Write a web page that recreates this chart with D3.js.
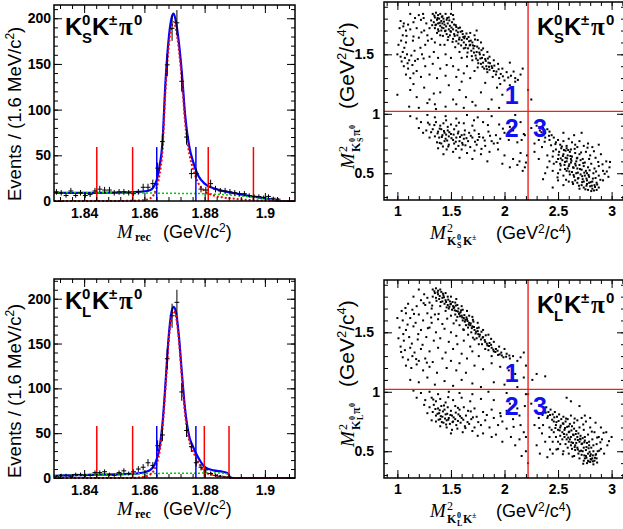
<!DOCTYPE html>
<html>
<head>
<meta charset="utf-8">
<script src="https://cdn.jsdelivr.net/npm/d3@7"></script>
<style>
  body { margin: 0; background: #fff; }
  svg { display: block; }
</style>
</head>
<body>
<svg id="chart" width="623" height="529"></svg>
<script>
// ---- histogram data (1.6 MeV bins from 1.83 to 1.91) ----
var binLo = 1.83, binW = 0.0016;
var countsKS = [10, 9, 6, 11, 6, 9, 6, 7, 11, 13, 12, 12, 9, 10, 10, 9, 8, 10, 15, 15,
                19, 36, 65, 149, 189, 195, 131, 70, 30, 30, 13, 12, 19, 13, 11, 11, 10, 9, 8, 8,
                6, 5, 5, 4, 5, 3, 2, 0, 0, 0];
var countsKL = [2, 3, 3, 2, 4, 4, 3, 3, 6, 6, 7, 4, 3, 6, 8, 5, 7, 10, 12, 17,
                14, 36, 48, 133, 181, 196, 96, 53, 35, 17, 12, 9, 5, 3, 2, 1, 1, 0, 0, 0,
                0, 0, 0, 0, 0, 0, 0, 0, 0, 0];

// ---- fit curves ----
var fitXKS   = [1.830, 1.835, 1.840, 1.845, 1.850, 1.855, 1.858, 1.860, 1.862, 1.864, 1.865, 1.866, 1.867, 1.868, 1.869, 1.8697,
                1.8705, 1.8715, 1.8725, 1.8735, 1.875, 1.876, 1.878, 1.880, 1.883, 1.886, 1.890, 1.895, 1.900, 1.903, 1.905, 1.910];
var totalKS  = [9, 9, 9, 9, 9.2, 9.5, 10, 10.5, 12, 22, 37, 64, 130, 175, 200, 205,
                196, 172, 138, 95, 58, 45, 27, 19, 14, 11, 8.5, 5.5, 3, 1.2, 0, 0];
var signalKS = [0, 0, 0, 0, 0, 0.2, 0.5, 1, 3, 14, 28, 55, 120, 166, 191, 196,
                188, 164, 130, 87, 50, 37, 19, 11, 6, 4, 2.5, 1, 0.5, 0.2, 0, 0];
var bkgKS    = [9, 9, 9, 9, 9, 8.9, 8.8, 8.8, 8.7, 8.6, 8.6, 8.5, 8.5, 8.5, 8.4, 8.4,
                8.4, 8.3, 8.3, 8.3, 8.2, 8.2, 8.1, 8, 7.5, 7, 6, 4.5, 2.5, 1, 0, 0];

var fitXKL   = [1.830, 1.835, 1.840, 1.845, 1.850, 1.855, 1.858, 1.860, 1.862, 1.864, 1.865, 1.866, 1.867, 1.868, 1.869, 1.8697,
                1.8705, 1.8715, 1.8725, 1.8735, 1.875, 1.876, 1.878, 1.880, 1.883, 1.886, 1.8875, 1.888, 1.8885, 1.890, 1.910];
var totalKL  = [2.5, 3, 3.3, 3.7, 4, 4.5, 5.2, 6.4, 9, 20, 33, 60, 105, 155, 185, 191,
                185, 157, 115, 77, 45, 36, 22, 12.5, 8.5, 7, 5.5, 4, 0, 0, 0];
var signalKL = [0, 0, 0, 0, 0, 0, 0.5, 1.5, 4, 15, 28, 55, 100, 150, 180, 186,
                180, 152, 110, 72, 40, 31, 17, 7, 3, 1.5, 1, 0.5, 0, 0, 0];
var bkgKL    = [2.5, 3, 3.3, 3.7, 4, 4.5, 4.7, 4.9, 5, 5.1, 5.1, 5.2, 5.2, 5.2, 5.3, 5.3,
                5.3, 5.3, 5.3, 5.4, 5.4, 5.4, 5.4, 5.5, 5.5, 5.4, 4.5, 3.5, 0, 0, 0];

// signal window (blue) and sideband (red) markers
var sigWinKS = [1.8641, 1.8771], sideKS = [1.8442, 1.8561, 1.8812, 1.8962], markHKS = 59;
var sigWinKL = [1.8641, 1.8771], sideKL = [1.8442, 1.8561, 1.8799, 1.8881], markHKL = 58;

// ---- Dalitz plots ----
var cutX = 2.22, cutY = 1.02;
var regionLabels = [["1", 2.067, 1.085], ["2", 2.067, 0.805], ["3", 2.33, 0.805]];

var dalitzKS = [
 [1.33,1.84],[1.36,1.85],[1.38,1.83],[1.40,1.84],[1.42,1.82],[1.45,1.84],[1.50,1.84],[1.52,1.83],[1.35,1.81],[1.37,1.79],
 [1.39,1.80],[1.41,1.78],[1.43,1.80],[1.46,1.79],[1.48,1.81],[1.34,1.77],[1.36,1.75],[1.38,1.76],[1.40,1.74],[1.42,1.76],
 [1.44,1.75],[1.47,1.76],[1.49,1.74],[1.51,1.77],[1.53,1.75],[1.55,1.73],[1.35,1.72],[1.38,1.71],[1.41,1.70],[1.43,1.72],
 [1.45,1.70],[1.48,1.71],[1.50,1.69],[1.52,1.71],[1.55,1.70],[1.57,1.72],[1.59,1.69],[1.37,1.68],[1.40,1.66],[1.46,1.67],
 [1.49,1.66],[1.53,1.67],[1.56,1.66],[1.58,1.64],[1.61,1.67],[1.63,1.65],[1.60,1.62],[1.62,1.60],[1.65,1.63],[1.67,1.61],
 [1.52,1.63],[1.55,1.61],[1.57,1.59],[1.64,1.58],[1.68,1.58],[1.70,1.60],[1.72,1.57],[1.66,1.55],[1.69,1.53],[1.71,1.55],
 [1.74,1.52],[1.76,1.55],[1.73,1.49],[1.77,1.50],[1.79,1.47],[1.75,1.45],[1.80,1.43],[1.82,1.46],[1.78,1.42],[1.83,1.40],
 [1.85,1.43],[1.81,1.38],[1.86,1.37],[1.88,1.40],[1.84,1.35],[1.90,1.36],[1.92,1.33],[1.89,1.31],[1.95,1.30],[1.62,1.55],
 [1.58,1.52],[1.65,1.48],[1.70,1.45],[1.60,1.47],[1.54,1.56],[1.47,1.62],[1.44,1.58],[1.68,1.68],[1.72,1.66],[1.75,1.62],
 [1.78,1.60],[1.74,1.70],[1.80,1.55],[1.84,1.52],[1.86,1.48],[1.90,1.45],[1.94,1.42],[1.98,1.38],[2.02,1.35],[2.06,1.32],
 [2.10,1.30],[2.15,1.33],[2.17,1.38],[2.05,1.43],[2.00,1.28],[1.96,1.25],
 [1.12,1.84],[1.20,1.83],[1.24,1.84],[1.03,1.78],[1.06,1.76],[1.10,1.75],[1.15,1.77],[1.22,1.79],[1.27,1.76],[1.02,1.72],
 [1.08,1.70],[1.12,1.71],[1.18,1.72],[1.25,1.70],[1.30,1.72],[1.05,1.66],[1.15,1.65],[1.20,1.64],[1.28,1.66],[1.32,1.63],
 [1.01,1.58],[1.08,1.60],[1.26,1.58],[1.35,1.60],[1.40,1.58],[1.00,1.50],[1.03,1.48],[1.05,1.52],[1.07,1.47],[1.09,1.50],
 [1.11,1.45],[1.13,1.49],[1.16,1.53],[1.04,1.44],[1.19,1.46],[1.23,1.50],[1.30,1.48],[1.34,1.52],[1.38,1.47],[1.45,1.50],
 [1.50,1.47],[1.06,1.40],[1.10,1.38],[1.14,1.41],[1.18,1.36],[1.26,1.40],[1.33,1.42],[1.40,1.38],[1.46,1.41],[1.52,1.40],
 [1.57,1.37],[1.08,1.33],[1.12,1.30],[1.15,1.34],[1.22,1.31],[1.30,1.33],[1.37,1.30],[1.45,1.32],[1.55,1.31],[1.62,1.34],
 [1.68,1.30],[1.72,1.36],[1.65,1.40],[1.75,1.39],
 [1.00,1.16],[1.12,1.20],[1.18,1.14],[1.25,1.22],[1.30,1.12],[1.35,1.08],[1.40,1.18],[1.48,1.24],[1.52,1.12],[1.58,1.20],
 [1.64,1.14],[1.70,1.10],[1.78,1.18],[1.82,1.26],[1.88,1.12],[1.93,1.22],[1.98,1.16],[2.05,1.24],[2.10,1.27],[2.22,1.20],
 [1.11,1.06],[1.20,1.05],[1.28,1.09],[1.36,1.04],[1.45,1.06],[1.55,1.08],[1.62,1.05],[1.73,1.07],[1.85,1.04],[1.95,1.05],
 [1.15,1.25],[1.60,1.27],[1.34,1.17],
 [1.12,0.98],[1.18,0.96],[1.28,0.99],[1.35,0.97],[1.45,0.98],[1.55,0.96],[1.65,0.99],[1.75,0.97],[1.88,0.98],[2.10,0.99],
 [1.22,0.93],[1.30,0.91],[1.36,0.93],[1.40,0.90],[1.43,0.92],[1.47,0.89],[1.50,0.91],[1.55,0.90],[1.62,0.92],[1.70,0.90],
 [1.80,0.93],[1.95,0.91],[2.05,0.89],[2.15,0.93],[1.27,0.86],[1.33,0.87],[1.38,0.85],[1.41,0.87],[1.44,0.84],[1.47,0.86],
 [1.50,0.83],[1.53,0.87],[1.57,0.85],[1.60,0.82],[1.63,0.86],[1.67,0.84],[1.72,0.86],[1.76,0.83],[1.85,0.85],[1.92,0.82],
 [2.00,0.84],[2.08,0.86],[2.18,0.83],[1.35,0.81],[1.39,0.80],[1.42,0.82],[1.45,0.79],[1.48,0.81],[1.52,0.78],[1.55,0.80],
 [1.58,0.77],[1.62,0.79],[1.66,0.77],[1.70,0.80],[1.75,0.78],[1.80,0.80],[1.88,0.77],[1.96,0.79],[2.04,0.78],[1.37,0.76],
 [1.41,0.75],[1.44,0.77],[1.48,0.74],[1.53,0.75],[1.57,0.73],[1.61,0.74],[1.68,0.72],[1.74,0.74],[1.82,0.73],[1.90,0.75],
 [2.12,0.76],[1.38,0.71],[1.46,0.70],[1.52,0.68],[1.60,0.70],[1.65,0.67],[1.72,0.69],[1.78,0.66],[1.86,0.68],[1.94,0.70],
 [2.00,0.65],[2.15,0.67],[1.43,0.66],[1.58,0.63],[1.70,0.62],[1.84,0.60],[1.98,0.58],[2.05,0.55],[2.12,0.57],[2.17,0.52],
 [2.20,0.59],[2.08,0.62],[1.30,0.80],[1.24,0.84],[1.20,0.88],[2.19,0.82],[2.16,0.78],[2.21,0.65],[2.19,0.55],[2.14,0.60],
 [2.25,0.88],[2.30,0.90],[2.33,0.86],[2.36,0.88],[2.38,0.84],[2.40,0.87],[2.42,0.85],[2.44,0.82],[2.38,0.80],[2.32,0.78],
 [2.28,0.75],[2.35,0.72],[2.42,0.78],[2.46,0.80],[2.48,0.76],[2.50,0.78],[2.52,0.74],[2.55,0.77],[2.58,0.73],[2.60,0.79],
 [2.63,0.76],[2.66,0.74],[2.70,0.77],[2.74,0.73],[2.78,0.75],[2.82,0.72],[2.88,0.74],[2.65,0.82],[2.72,0.84],[2.55,0.84],
 [2.48,0.70],[2.51,0.68],[2.53,0.71],[2.55,0.66],[2.57,0.69],[2.59,0.65],[2.61,0.68],[2.63,0.64],[2.66,0.67],[2.68,0.63],
 [2.70,0.66],[2.73,0.62],[2.76,0.68],[2.80,0.65],[2.85,0.63],[2.90,0.66],[2.95,0.60],[2.45,0.64],[2.42,0.60],[2.40,0.55],
 [2.38,0.50],[2.36,0.45],[2.45,0.52],[2.50,0.62],[2.52,0.58],[2.54,0.61],[2.56,0.57],[2.58,0.60],[2.60,0.56],[2.62,0.59],
 [2.64,0.55],[2.66,0.58],[2.68,0.54],[2.70,0.57],[2.72,0.53],[2.74,0.56],[2.76,0.52],[2.78,0.55],[2.81,0.58],[2.84,0.54],
 [2.88,0.56],[2.92,0.52],[2.98,0.55],[2.50,0.50],[2.55,0.48],[2.58,0.52],[2.61,0.49],[2.63,0.51],[2.65,0.47],[2.67,0.50],
 [2.69,0.46],[2.71,0.49],[2.73,0.45],[2.75,0.48],[2.77,0.44],[2.79,0.47],[2.82,0.43],[2.85,0.46],[2.88,0.48],[2.92,0.44],
 [2.97,0.47],[2.60,0.43],[2.64,0.41],[2.68,0.42],[2.72,0.40],[2.74,0.38],[2.77,0.41],[2.80,0.39],[2.82,0.37],[2.84,0.40],
 [2.86,0.36],[2.81,0.35],[2.78,0.36],[2.70,0.37],[2.55,0.40],[2.50,0.44],[2.45,0.38],[2.88,0.38],[2.62,0.62],[2.57,0.63],
 [2.67,0.60],[2.71,0.61],[2.75,0.59],[2.79,0.62],[2.52,0.53],[2.59,0.54],[2.77,0.50],[2.83,0.50],[2.86,0.42],[2.74,0.43],
 [2.79,0.42],[2.66,0.44],[2.62,0.70],[2.58,0.71],[2.68,0.72],[2.46,0.58],[2.40,0.65],[2.32,0.62],[2.28,0.68],[2.25,1.12]
];
var dalitzKSMore = [
 [1.345,1.825],[1.375,1.805],[1.395,1.765],[1.415,1.815],[1.435,1.775],[1.455,1.735],[1.465,1.805],[1.485,1.785],[1.505,1.725],[1.525,1.795],
 [1.545,1.745],[1.565,1.685],[1.585,1.725],[1.605,1.695],[1.625,1.635],[1.645,1.675],[1.665,1.645],[1.685,1.615],[1.705,1.575],[1.725,1.625],
 [1.745,1.565],[1.765,1.515],[1.785,1.535],[1.805,1.495],[1.825,1.445],[1.845,1.465],[1.865,1.425],[1.885,1.385],[1.905,1.405],[1.925,1.355],
 [1.945,1.375],[1.965,1.335],[1.985,1.315],[1.355,1.745],[1.385,1.695],[1.425,1.655],[1.475,1.645],[1.515,1.605],[1.535,1.655],[1.575,1.625],
 [1.595,1.575],[1.635,1.555],[1.655,1.515],[1.695,1.485],[1.735,1.465],[1.755,1.425],[1.795,1.395],[1.835,1.375],[1.315,1.785],[1.325,1.745],
 [1.415,1.725],[1.445,1.695],[1.495,1.695],[1.615,1.645],[1.675,1.575],[1.715,1.515],[1.775,1.465],[1.855,1.395],[2.035,1.305],[2.085,1.355],
 [2.125,1.285],[1.285,1.615],[1.215,1.555],[1.065,1.555],[1.095,1.425],[1.165,1.445],[1.245,1.465],[1.085,1.655],[1.145,1.615],[1.035,1.615],
 [1.225,1.685],[1.055,1.735],[1.245,1.805],[1.165,1.805],
 [1.375,0.835],[1.395,0.875],[1.415,0.805],[1.435,0.855],[1.455,0.825],[1.465,0.775],[1.485,0.845],[1.505,0.795],[1.525,0.825],[1.545,0.765],
 [1.565,0.835],[1.585,0.805],[1.605,0.755],[1.625,0.825],[1.645,0.795],[1.685,0.815],[1.725,0.765],[1.765,0.805],[1.815,0.775],[1.865,0.815],
 [1.395,0.755],[1.425,0.725],[1.475,0.725],[1.545,0.705],[1.635,0.735],[1.345,0.905],[1.455,0.945],[1.575,0.925],[1.715,0.945],[1.845,0.905],
 [1.985,0.875],[2.065,0.815],[1.935,0.755],[1.785,0.705],[1.315,0.845],[1.285,0.925],
 [2.505,0.655],[2.525,0.625],[2.545,0.645],[2.565,0.595],[2.585,0.625],[2.605,0.575],[2.625,0.605],[2.645,0.545],[2.665,0.565],[2.685,0.505],
 [2.705,0.535],[2.725,0.475],[2.745,0.505],[2.765,0.455],[2.785,0.485],[2.805,0.425],[2.825,0.455],[2.845,0.385],[2.815,0.395],[2.765,0.395],
 [2.725,0.425],[2.685,0.455],[2.645,0.485],[2.605,0.515],[2.565,0.535],[2.525,0.565],[2.485,0.595],[2.455,0.685],[2.475,0.745],[2.535,0.725],
 [2.595,0.695],[2.655,0.705],[2.715,0.675],[2.775,0.715],[2.835,0.685],[2.875,0.595],[2.915,0.575],[2.935,0.495],[2.855,0.515],[2.795,0.525],
 [2.735,0.585],[2.675,0.625],[2.615,0.645],[2.555,0.695],[2.415,0.815],[2.375,0.765],[2.345,0.845],[2.435,0.735],[2.495,0.465],[2.575,0.445],
 [2.635,0.425],[2.695,0.395],[2.755,0.365],[2.835,0.355],[2.865,0.405],[2.895,0.445],[2.955,0.515],[2.985,0.595]
];

var dalitzKL = [
 [1.33,1.86],[1.36,1.87],[1.38,1.85],[1.40,1.86],[1.35,1.83],[1.38,1.82],[1.41,1.84],[1.43,1.81],[1.33,1.80],[1.36,1.79],
 [1.39,1.78],[1.42,1.79],[1.45,1.77],[1.47,1.80],[1.49,1.76],[1.44,1.74],[1.47,1.73],[1.50,1.74],[1.52,1.72],[1.54,1.75],
 [1.48,1.70],[1.51,1.69],[1.53,1.71],[1.55,1.68],[1.57,1.70],[1.59,1.67],[1.54,1.65],[1.56,1.63],[1.58,1.66],[1.60,1.64],
 [1.62,1.62],[1.61,1.60],[1.63,1.59],[1.65,1.61],[1.67,1.58],[1.64,1.56],[1.66,1.54],[1.68,1.56],[1.70,1.55],[1.72,1.52],
 [1.69,1.50],[1.73,1.49],[1.75,1.51],[1.77,1.48],[1.74,1.45],[1.78,1.44],[1.80,1.46],[1.82,1.42],[1.79,1.40],[1.84,1.39],
 [1.86,1.41],[1.88,1.37],[1.85,1.35],[1.90,1.34],[1.92,1.36],[1.94,1.31],[1.97,1.33],[1.99,1.29],[2.02,1.32],[2.05,1.28],
 [2.08,1.30],[2.12,1.26],[2.15,1.29],[2.18,1.33],[2.20,1.22],[1.45,1.83],[1.50,1.80],[1.55,1.78],[1.60,1.72],[1.65,1.68],
 [1.70,1.63],[1.75,1.58],[1.80,1.52],[1.85,1.48],[1.90,1.42],[1.95,1.38],[2.00,1.36],[1.30,1.75],[1.32,1.70],[1.40,1.72],
 [1.45,1.68],[1.50,1.64],[1.55,1.60],[1.58,1.56],[1.62,1.52],[1.66,1.48],[1.72,1.44],[1.76,1.40],[1.82,1.36],[1.88,1.30],
 [1.42,1.76],[1.46,1.71],[1.56,1.73],[1.61,1.69],[1.67,1.64],[1.71,1.59],[1.76,1.54],
 [1.20,1.86],[1.25,1.82],[1.15,1.80],[1.22,1.77],[1.28,1.79],[1.10,1.74],[1.18,1.72],[1.26,1.73],[1.04,1.68],[1.08,1.66],
 [1.14,1.69],[1.20,1.65],[1.28,1.66],[1.35,1.65],[1.00,1.62],[1.05,1.60],[1.12,1.62],[1.17,1.58],[1.24,1.60],[1.32,1.58],
 [1.38,1.61],[1.42,1.57],[1.02,1.54],[1.08,1.52],[1.15,1.55],[1.22,1.52],[1.30,1.54],[1.36,1.50],[1.44,1.53],[1.50,1.50],
 [1.55,1.47],[1.01,1.45],[1.06,1.43],[1.11,1.46],[1.19,1.44],[1.27,1.46],[1.34,1.43],[1.40,1.45],[1.48,1.42],[1.56,1.40],
 [1.62,1.43],[1.68,1.38],[1.03,1.38],[1.07,1.35],[1.12,1.37],[1.16,1.33],[1.22,1.36],[1.30,1.34],[1.38,1.37],[1.45,1.33],
 [1.52,1.36],[1.60,1.32],[1.70,1.34],[1.05,1.29],[1.10,1.27],[1.14,1.30],[1.20,1.26],[1.26,1.28],[1.33,1.25],[1.42,1.28],
 [1.50,1.26],[1.58,1.24],[1.65,1.28],[1.76,1.30],[1.08,1.22],[1.13,1.20],[1.18,1.23],[1.24,1.18],[1.30,1.21],[1.37,1.16],
 [1.46,1.20],[1.55,1.18],[1.64,1.16],[1.72,1.22],[1.80,1.19],[1.88,1.24],[1.96,1.21],[2.04,1.18],[2.10,1.15],[2.18,1.12],
 [2.30,1.15],[1.12,1.10],[1.20,1.08],[1.28,1.12],[1.35,1.06],[1.44,1.09],[1.52,1.05],[1.60,1.10],[1.70,1.07],[1.78,1.04],
 [1.90,1.08],[2.00,1.06],[2.12,1.04],[2.26,1.10],[2.38,1.13],
 [1.15,1.01],[1.22,0.99],[1.30,1.00],[1.38,0.98],[1.48,1.00],[1.58,0.99],[1.70,0.98],[1.85,1.00],[2.02,0.99],[2.20,0.98],
 [1.18,0.95],[1.26,0.93],[1.32,0.95],[1.36,0.92],[1.40,0.94],[1.45,0.91],[1.52,0.93],[1.60,0.95],[1.68,0.92],[1.78,0.94],
 [1.90,0.93],[2.05,0.90],[1.25,0.89],[1.30,0.87],[1.34,0.89],[1.38,0.86],[1.41,0.88],[1.44,0.85],[1.47,0.87],[1.50,0.84],
 [1.54,0.88],[1.58,0.85],[1.62,0.87],[1.66,0.84],[1.72,0.86],[1.80,0.83],[1.88,0.85],[1.96,0.82],[2.02,0.84],[2.12,0.86],
 [1.28,0.82],[1.33,0.83],[1.36,0.80],[1.39,0.82],[1.42,0.79],[1.45,0.81],[1.48,0.78],[1.51,0.80],[1.54,0.77],[1.57,0.81],
 [1.60,0.78],[1.64,0.80],[1.69,0.77],[1.74,0.79],[1.82,0.76],[1.90,0.78],[1.98,0.75],[2.08,0.77],[2.15,0.72],[1.32,0.76],
 [1.36,0.75],[1.40,0.77],[1.43,0.74],[1.46,0.76],[1.49,0.73],[1.52,0.75],[1.55,0.72],[1.59,0.74],[1.63,0.71],[1.67,0.73],
 [1.72,0.70],[1.78,0.72],[1.86,0.70],[1.94,0.72],[2.02,0.69],[1.40,0.71],[1.46,0.70],[1.51,0.68],[1.56,0.69],[1.61,0.66],
 [1.70,0.67],[1.80,0.65],[1.92,0.64],[2.06,0.62],[2.14,0.60],[2.18,0.66],[1.50,0.65],[1.75,0.63],[1.98,0.58],[2.10,0.55],
 [2.20,0.50],[2.16,0.46],[1.88,0.62],[2.22,0.98],[2.19,0.88],[2.14,0.80],[2.20,0.62],[2.22,0.40],
 [2.25,0.90],[2.30,0.93],[2.34,0.88],[2.37,0.85],[2.39,0.87],[2.41,0.83],[2.43,0.85],[2.45,0.81],[2.47,0.83],[2.49,0.79],
 [2.51,0.81],[2.53,0.77],[2.55,0.79],[2.57,0.75],[2.59,0.77],[2.61,0.73],[2.63,0.71],[2.65,0.69],[2.67,0.67],[2.69,0.65],
 [2.71,0.63],[2.73,0.61],[2.75,0.59],[2.77,0.57],[2.79,0.55],[2.81,0.53],[2.83,0.50],[2.85,0.47],[2.58,0.95],[2.62,0.92],
 [2.70,0.88],[2.75,0.80],[2.80,0.78],[2.85,0.74],[2.90,0.70],[2.95,0.66],[3.00,0.62],[2.32,0.78],[2.28,0.72],[2.35,0.65],
 [2.30,0.55],[2.33,0.48],[2.40,0.45],[2.45,0.58],[2.42,0.70],[2.48,0.72],[2.50,0.68],[2.52,0.70],[2.54,0.66],[2.56,0.68],
 [2.58,0.64],[2.60,0.66],[2.62,0.62],[2.64,0.64],[2.66,0.60],[2.68,0.62],[2.70,0.58],[2.72,0.56],[2.74,0.53],[2.76,0.51],
 [2.78,0.48],[2.80,0.46],[2.82,0.44],[2.84,0.42],[2.86,0.44],[2.78,0.42],[2.75,0.44],[2.72,0.47],[2.70,0.50],[2.68,0.53],
 [2.66,0.55],[2.64,0.57],[2.62,0.55],[2.60,0.58],[2.58,0.60],[2.56,0.62],[2.54,0.60],[2.52,0.63],[2.50,0.58],[2.48,0.62],
 [2.46,0.66],[2.44,0.68],[2.55,0.73],[2.60,0.71],[2.65,0.74],[2.70,0.70],[2.74,0.68],[2.78,0.64],[2.82,0.60],[2.86,0.56],
 [2.90,0.52],[2.93,0.48],[2.88,0.62],[2.84,0.66],[2.80,0.70],[2.76,0.75],[2.72,0.78],[2.68,0.76],[2.62,0.80],[2.50,0.52],
 [2.55,0.50],[2.60,0.48],[2.65,0.46],[2.70,0.44],[2.74,0.42],[2.77,0.40],[2.80,0.41],[2.83,0.39],[2.81,0.43],[2.76,0.46],
 [2.73,0.50],[2.69,0.48],[2.66,0.51],[2.63,0.52],[2.59,0.53],[2.57,0.56],[2.61,0.60],[2.67,0.57],[2.71,0.60],[2.75,0.62],
 [2.79,0.58],[2.83,0.55],[2.87,0.50],[2.91,0.60],[2.96,0.55],[2.45,0.48],[2.38,0.58],[2.42,0.62],[2.36,0.72],[2.40,0.78],
 [2.46,0.75],[2.52,0.56]
];
var dalitzKLMore = [
 [1.345,1.845],[1.375,1.835],[1.395,1.805],[1.425,1.825],[1.435,1.795],[1.455,1.755],[1.475,1.775],[1.495,1.735],[1.515,1.755],[1.525,1.705],
 [1.545,1.725],[1.565,1.675],[1.575,1.655],[1.595,1.685],[1.605,1.625],[1.625,1.645],[1.635,1.605],[1.655,1.595],[1.665,1.565],[1.685,1.575],
 [1.695,1.535],[1.715,1.545],[1.735,1.505],[1.755,1.485],[1.765,1.465],[1.795,1.455],[1.815,1.435],[1.835,1.405],[1.855,1.385],[1.875,1.395],
 [1.895,1.355],[1.915,1.335],[1.935,1.345],[1.955,1.315],[1.975,1.305],[2.015,1.295],[2.045,1.305],[1.365,1.765],[1.405,1.755],[1.485,1.715],
 [1.535,1.685],[1.585,1.635],[1.645,1.625],[1.705,1.605],[1.745,1.535],[1.785,1.505],[1.825,1.475],[1.875,1.445],[1.325,1.725],[1.385,1.655],
 [1.465,1.615],[1.525,1.575],[1.615,1.525],[1.705,1.455],[1.285,1.535],[1.195,1.485],[1.095,1.565],[1.055,1.485],[1.135,1.405],[1.235,1.395],
 [1.155,1.655],[1.075,1.705],[1.245,1.745],[1.315,1.625],[1.035,1.335],[1.175,1.275],[1.275,1.245],
 [1.375,0.815],[1.395,0.845],[1.405,0.795],[1.425,0.835],[1.445,0.775],[1.465,0.815],[1.475,0.765],[1.495,0.805],[1.515,0.745],[1.525,0.785],
 [1.545,0.825],[1.565,0.755],[1.585,0.795],[1.615,0.765],[1.655,0.745],[1.705,0.785],[1.755,0.745],[1.385,0.765],[1.415,0.745],[1.455,0.725],
 [1.355,0.855],[1.435,0.885],[1.565,0.865],[1.685,0.835],[1.835,0.805],[1.965,0.795],[2.085,0.705],[1.635,0.695],[1.335,0.935],[1.475,0.955],
 [2.385,0.825],[2.405,0.795],[2.425,0.805],[2.445,0.765],[2.465,0.785],[2.485,0.745],[2.505,0.755],[2.525,0.715],[2.545,0.735],[2.565,0.695],
 [2.585,0.705],[2.605,0.665],[2.625,0.675],[2.645,0.635],[2.665,0.645],[2.685,0.595],[2.705,0.605],[2.725,0.565],[2.745,0.575],[2.765,0.535],
 [2.785,0.525],[2.795,0.495],[2.805,0.475],[2.825,0.465],[2.845,0.445],[2.765,0.445],[2.785,0.415],[2.805,0.435],[2.825,0.415],[2.745,0.465],
 [2.715,0.505],[2.685,0.515],[2.655,0.535],[2.625,0.575],[2.595,0.615],[2.555,0.645],[2.515,0.675],[2.475,0.695],[2.575,0.775],[2.655,0.775],
 [2.735,0.725],[2.815,0.665],[2.865,0.615],[2.895,0.575],[2.855,0.475],[2.885,0.505],[2.425,0.515],[2.485,0.515],[2.545,0.475],[2.635,0.455],
 [2.735,0.395],[2.865,0.405],[2.925,0.655],[2.975,0.585],[2.355,0.805],[2.325,0.695]
];

// ---- axis ticks ----
var mrecTicks = [1.84, 1.86, 1.88, 1.9];
var eventTicks = [0, 50, 100, 150, 200];
var m2Ticks = [1, 1.5, 2, 2.5, 3];
var m2yTicks = [0.5, 1, 1.5];

var svg = d3.select("#chart");
var SANS = "'Liberation Sans', Arial, Helvetica, sans-serif";
var SERIF = "'Liberation Serif', 'Times New Roman', serif";

function fmt(d) { return String(+d.toFixed(3)); }

// ROOT-style frame: ticks inside, mirrored on top/right
function drawFrame(g, x, y, xMaj, xMin, yMaj, yMin, xPad, yPad) {
    var w = x.range()[1] - x.range()[0], h = y.range()[0] - y.range()[1];
    var x0 = x.range()[0], y0 = y.range()[1];

    function ax(gen, tv, size, labels, tx, ty, pad) {
        var a = g.append("g").attr("transform", "translate(" + tx + "," + ty + ")")
            .call(gen.tickValues(tv).tickSize(size).tickPadding(pad || 3)
                 .tickFormat(labels ? fmt : ""));
        a.select(".domain").remove();
        a.selectAll("line").attr("stroke", "#000").attr("stroke-width", 1);
        a.selectAll("text").attr("font-family", SANS).attr("font-weight", "bold")
            .attr("font-size", 14).attr("fill", "#000");
        return a;
    }
    ax(d3.axisBottom(x), xMaj, -8, true, 0, y0 + h, xPad);
    ax(d3.axisBottom(x), xMin, -4, false, 0, y0 + h);
    ax(d3.axisTop(x), xMaj, -8, false, 0, y0);
    ax(d3.axisTop(x), xMin, -4, false, 0, y0);
    var yl = ax(d3.axisLeft(y), yMaj, -8, true, x0, 0, yPad);
    ax(d3.axisLeft(y), yMin, -4, false, x0, 0);
    ax(d3.axisRight(y), yMaj, -8, false, x0 + w, 0);
    ax(d3.axisRight(y), yMin, -4, false, x0 + w, 0);

    g.append("rect").attr("x", x0).attr("y", y0).attr("width", w).attr("height", h)
        .attr("fill", "none").attr("stroke", "#000").attr("stroke-width", 1.5);
    return yl;
}

// decay-mode label, e.g. K0_S K± π0
function modeLabel(g, px, py, sub) {
    var t = g.append("g").attr("transform", "translate(" + px + "," + py + ")")
        .attr("font-family", SANS).attr("font-weight", "bold").attr("fill", "#000");
    t.append("text").attr("x", 0).attr("y", 0).attr("font-size", 24).text("K");
    t.append("text").attr("x", 17).attr("y", -10).attr("font-size", 15).text("0");
    t.append("text").attr("x", 17).attr("y", 8).attr("font-size", 15).text(sub);
    t.append("text").attr("x", 27).attr("y", 0).attr("font-size", 24).text("K");
    t.append("text").attr("x", 44).attr("y", -10).attr("font-size", 15).text("\u00b1");
    t.append("text").attr("x", 54).attr("y", 0).attr("font-size", 25)
        .attr("font-family", SERIF).text("\u03c0");
    t.append("text").attr("x", 69).attr("y", -10).attr("font-size", 15).text("0");
}

// M^2 label with stacked sub/superscript
function m2Label(g, subA, subB, supB) {
    g.append("text").attr("x", 0).attr("y", 0).attr("font-family", SERIF)
        .attr("font-style", "italic").attr("font-size", 19).text("M");
    g.append("text").attr("x", 17).attr("y", -7).attr("font-family", SERIF)
        .attr("font-size", 12).text("2");
    var s = g.append("g").attr("font-family", SERIF).attr("font-weight", "bold");
    s.append("text").attr("x", 17).attr("y", 6).attr("font-size", 12).text("K");
    s.append("text").attr("x", 27).attr("y", 1).attr("font-size", 8).text("0");
    s.append("text").attr("x", 27).attr("y", 9).attr("font-size", 8).text(subA);
    s.append("text").attr("x", 33).attr("y", 6).attr("font-size", 12).text(subB);
    s.append("text").attr("x", subB == "K" ? 42 : 40).attr("y", 1).attr("font-size", 8).text(supB);
}

function unitLabel(g, px, a, b, size) {
    var fs = size || 18, ss = Math.round(fs * 0.64), up = Math.round(fs * 0.36);
    var t = g.append("text").attr("x", px).attr("y", 0).attr("font-family", SANS).attr("font-size", fs);
    t.append("tspan").text("(GeV" + (a ? "" : "/c"));
    if (a) {
        t.append("tspan").attr("dy", -up).attr("font-size", ss).text(a);
        t.append("tspan").attr("dy", up).text("/c");
    }
    t.append("tspan").attr("dy", -up).attr("font-size", ss).text(b);
    t.append("tspan").attr("dy", up).text(")");
}

// ---------- mass histogram panel ----------
function massPanel(top, counts, fx, tot, sig, bkg, yMax, sigWin, side, markH, sub) {
    var x = d3.scaleLinear().domain([1.83, 1.91]).range([54, 295]);
    var y = d3.scaleLinear().domain([0, yMax]).range([top.bottom, top.top]);
    var g = svg.append("g");

    // fit components
    var line = d3.line().x(function (d) { return x(d[0]); }).y(function (d) { return y(d[1]); })
        .curve(d3.curveMonotoneX);
    g.append("path").datum(d3.zip(fx, tot)).attr("d", line).attr("fill", "none")
        .attr("stroke", "#0000ff").attr("stroke-width", 2.2);
    g.append("path").datum(d3.zip(fx, bkg)).attr("d", line).attr("fill", "none")
        .attr("stroke", "#00cc00").attr("stroke-width", 1.5).attr("stroke-dasharray", "2,2");
    g.append("path").datum(d3.zip(fx, sig)).attr("d", line).attr("fill", "none")
        .attr("stroke", "#ff0000").attr("stroke-width", 2).attr("stroke-dasharray", "2,2");

    // window markers
    g.selectAll(".sb").data(side).enter().append("line")
        .attr("x1", function (d) { return x(d); }).attr("x2", function (d) { return x(d); })
        .attr("y1", y(0)).attr("y2", y(markH)).attr("stroke", "#ff0000").attr("stroke-width", 1.5);
    g.selectAll(".sw").data(sigWin).enter().append("line")
        .attr("x1", function (d) { return x(d); }).attr("x2", function (d) { return x(d); })
        .attr("y1", y(0)).attr("y2", y(markH)).attr("stroke", "#0000ff").attr("stroke-width", 1.5);

    // data points with errors
    var pts = counts.map(function (n, i) { return { lo: binLo + i * binW, n: n }; })
        .filter(function (d) { return d.n > 0; });
    var p = g.selectAll(".pt").data(pts).enter().append("g");
    p.append("line")
        .attr("x1", function (d) { return x(d.lo); }).attr("x2", function (d) { return x(d.lo + binW); })
        .attr("y1", function (d) { return y(d.n); }).attr("y2", function (d) { return y(d.n); })
        .attr("stroke", "#000").attr("stroke-width", 1);
    p.append("line")
        .attr("x1", function (d) { return x(d.lo + binW / 2); }).attr("x2", function (d) { return x(d.lo + binW / 2); })
        .attr("y1", function (d) { return y(Math.max(0, d.n - Math.sqrt(d.n))); })
        .attr("y2", function (d) { return y(d.n + Math.sqrt(d.n)); })
        .attr("stroke", "#000").attr("stroke-width", 1);

    drawFrame(g, x, y, mrecTicks, d3.range(1.832, 1.9101, 0.004), eventTicks, d3.range(0, yMax, 10), 7, 3);

    modeLabel(g, 65, top.top + 30, sub);

    // axis titles
    var xt = g.append("g").attr("transform", "translate(117," + (top.bottom + 37) + ")");
    xt.append("text").attr("font-family", SERIF).attr("font-style", "italic").attr("font-size", 19).text("M");
    xt.append("text").attr("x", 18).attr("y", 3).attr("font-family", SERIF).attr("font-weight", "bold")
        .attr("font-size", 12).text("rec");
    unitLabel(xt, 46, null, "2");

    var yt = g.append("g").attr("transform", "translate(21," + top.bottom + ") rotate(-90)");
    var t = yt.append("text").attr("font-family", SANS).attr("font-size", 18.5);
    t.append("tspan").text("Events / (1.6 MeV/c");
    t.append("tspan").attr("dy", -7).attr("font-size", 12).text("2");
    t.append("tspan").attr("dy", 7).text(")");
}

// ---------- Dalitz panel ----------
function dalitzPanel(top, pts, sub) {
    var x = d3.scaleLinear().domain([0.875, 3.125]).range([384, 625]);
    var y = d3.scaleLinear().domain([0.275, 1.94]).range([top.bottom, top.top]);
    var g = svg.append("g");

    g.selectAll(".dot").data(pts).enter().append("rect")
        .attr("x", function (d) { return x(d[0]) - 1; }).attr("y", function (d) { return y(d[1]) - 1; })
        .attr("width", 2).attr("height", 2).attr("fill", "#000");

    g.append("line").attr("x1", x(cutX)).attr("x2", x(cutX)).attr("y1", y.range()[0]).attr("y2", y.range()[1])
        .attr("stroke", "#ee2020").attr("stroke-width", 1.4);
    g.append("line").attr("x1", x.range()[0]).attr("x2", x.range()[1]).attr("y1", y(cutY)).attr("y2", y(cutY))
        .attr("stroke", "#ee2020").attr("stroke-width", 1.4);

    g.selectAll(".reg").data(regionLabels).enter().append("text")
        .attr("x", function (d) { return x(d[1]); }).attr("y", function (d) { return y(d[2]); })
        .attr("text-anchor", "middle").attr("font-family", SANS).attr("font-weight", "bold")
        .attr("font-size", 25).attr("fill", "#1010f0").text(function (d) { return d[0]; });

    var yl = drawFrame(g, x, y, m2Ticks, d3.range(0.9, 3.13, 0.1), m2yTicks, d3.range(0.3, 1.95, 0.1), 6, 10);
    yl.selectAll("text").attr("dx", function (d) { return Number.isInteger(d) ? 6 : 0; });

    modeLabel(g, 537, top.top + 33, sub);

    var xt = g.append("g").attr("transform", "translate(430," + (top.bottom + 39) + ")");
    m2Label(xt, sub, "K", "\u00b1");
    unitLabel(xt, 66, "2", "4");

    var yt = g.append("g").attr("transform", "translate(354," + (top.bottom - 31) + ") rotate(-90)");
    m2Label(yt, sub, "\u03c0", "0");
    unitLabel(yt, 60, "2", "4", 21);
}

massPanel({ top: 5, bottom: 201 }, countsKS, fitXKS, totalKS, signalKS, bkgKS, 214.5, sigWinKS, sideKS, markHKS, "S");
massPanel({ top: 279, bottom: 478 }, countsKL, fitXKL, totalKL, signalKL, bkgKL, 222, sigWinKL, sideKL, markHKL, "L");
dalitzPanel({ top: 2, bottom: 200 }, dalitzKS.concat(dalitzKSMore), "S");
dalitzPanel({ top: 280, bottom: 478 }, dalitzKL.concat(dalitzKLMore), "L");
</script>
</body>
</html>
